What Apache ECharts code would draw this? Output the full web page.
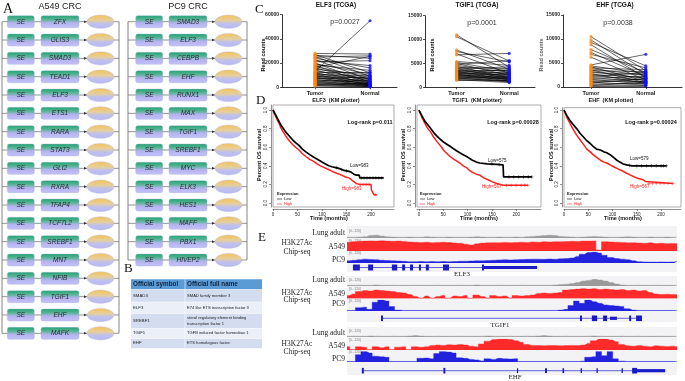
<!DOCTYPE html>
<html>
<head>
<meta charset="utf-8">
<script src="https://cdn.jsdelivr.net/npm/echarts@6/dist/echarts.min.js"></script>
<style>
html, body { margin: 0; padding: 0; background: #fff; }
#fig { width: 685px; height: 381px; }
</style>
</head>
<body>
<div id="fig"></div>
<script>
// ---------- panel A : CRC members
var a549Genes = ['ZFX','GLIS3','SMAD3','TEAD1','ELF3','ETS1','RARA','STAT3','GLI2','RXRA','TFAP4','TCF7L2','SREBF1','MNT','NFIB','TGIF1','EHF','MAFK'];
var pc9Genes = ['SMAD3','ELF3','CEBPB','EHF','RUNX1','MAX','TGIF1','SREBF1','MYC','ELK3','HES1','MAFF','PBX1','HIVEP2'];

// ---------- panel B : table
var tableSymbols = ['SMAD3','ELF3','SREBF1','TGIF1','EHF'];
var tableNames = ['SMAD family member 3','E74 like ETS transcription factor 3','sterol regulatory element binding\ntranscription factor 1','TGFB induced factor homeobox 1','ETS homologous factor'];

// ---------- panel C : paired read counts (tumor -> normal)
var pairCats = ['Tumor','Normal'];
var elf3Tumor  = [28000,27000,26500,25500,25000,24000,23000,22000,21000,20000,19500,18500,18000,17000,16500,16000,15000,14500,13000,13500,12500,12000,11500,11000,10500,10000,9500,9000,8500,8000,7500,7000,6500,6000,5500,5000,4500,4000,3500,3000,2500,2000,1500,1000];
var elf3Normal = [27500,12000,24000,9000,26000,16000,6000,18000,22000,4000,11000,14000,3000,8000,25500,5000,10000,2000,55000,7000,12500,3500,6500,1500,9500,4500,2500,7500,1000,5500,3000,8500,2000,4000,1200,6000,2200,800,3200,1500,500,2800,900,400];
var tgif1Tumor  = [11000,10600,7800,7500,7000,6800,5400,5200,5000,4800,4600,4400,4200,4000,3900,3800,3600,3500,3400,3300,3200,3100,3000,2900,2800,2700,2600,2500,2400,2300,2200,2100,2000,1900,1800,1700,1600,1500];
var tgif1Normal = [4200,5500,3800,5300,2900,7100,4600,3300,2500,5600,3100,2000,3900,2700,1800,4300,2300,3500,1500,2900,2100,3700,1700,2600,1300,3200,2000,1600,2800,1200,2400,1900,1100,2200,1400,1800,1000,1500];
var ehfTumor  = [10500,9800,9300,8800,7800,7200,6800,6200,4600,4400,4200,4000,3800,3600,3400,3200,3000,2800,2600,2400,2200,2000,1800,1600,1400,1200,1000,800,600,400,300,200];
var ehfNormal = [3400,2600,4400,1900,3000,2200,4000,1500,6800,2800,1200,3600,2400,900,3200,1800,2600,700,2000,1400,3000,1000,2200,600,1600,1200,400,1800,800,300,1000,200];

// ---------- panel D : KM curves [months, survival]
var kmMonthTicks = [0,50,100,150,200];
var survTicks = [0,0.2,0.4,0.6,0.8,1.0];
var elf3KmLow = [[0,1],[2,0.98],[5,0.95],[8,0.92],[12,0.88],[16,0.84],[20,0.81],[25,0.77],[30,0.74],[35,0.71],[40,0.68],[46,0.65],[53,0.62],[60,0.58],[67,0.55],[75,0.52],[81,0.5],[87,0.48],[94,0.46],[100,0.44],[107,0.42],[114,0.4],[120,0.39],[128,0.38],[136,0.37],[145,0.35],[155,0.34],[160,0.33],[165,0.31],[170,0.3],[176,0.3],[177,0.27],[226,0.27]];
var elf3KmHigh = [[0,1],[2,0.97],[5,0.94],[8,0.9],[12,0.86],[16,0.81],[20,0.77],[25,0.73],[30,0.69],[35,0.66],[40,0.63],[46,0.6],[53,0.57],[60,0.53],[67,0.5],[75,0.47],[82,0.45],[90,0.42],[97,0.4],[105,0.38],[113,0.36],[121,0.34],[130,0.32],[140,0.3],[148,0.28],[155,0.27],[160,0.25],[165,0.23],[170,0.21],[176,0.2],[200,0.2],[201,0.14],[205,0.14],[206,0.09],[212,0.09]];
var elf3LowCens = [[130,0.38],[140,0.36],[150,0.345],[180,0.27],[186,0.27],[192,0.27],[198,0.27],[204,0.27],[210,0.27],[216,0.27],[222,0.27]];
var elf3HighCens = [[178,0.2],[184,0.2],[190,0.2],[196,0.2],[209,0.09]];
var tgif1KmLow = [[0,1],[3,0.97],[7,0.93],[12,0.88],[17,0.85],[23,0.81],[30,0.76],[37,0.72],[45,0.68],[52,0.65],[58,0.63],[64,0.61],[72,0.58],[78,0.56],[84,0.54],[91,0.52],[98,0.5],[104,0.48],[110,0.46],[118,0.44],[125,0.43],[140,0.42],[160,0.415],[173,0.41],[174,0.28],[232,0.28]];
var tgif1KmHigh = [[0,1],[3,0.96],[7,0.91],[12,0.86],[17,0.81],[23,0.77],[30,0.71],[37,0.66],[45,0.61],[52,0.56],[58,0.53],[64,0.5],[72,0.47],[78,0.45],[84,0.43],[91,0.4],[98,0.38],[104,0.35],[110,0.33],[118,0.31],[125,0.3],[133,0.27],[142,0.25],[150,0.23],[160,0.21],[173,0.19],[224,0.19]];
var tgif1LowCens = [[150,0.42],[165,0.413],[185,0.28],[195,0.28],[205,0.28],[215,0.28],[225,0.28],[232,0.28]];
var tgif1HighCens = [[180,0.19],[190,0.19],[200,0.19],[210,0.19],[218,0.19],[224,0.19]];
var ehfKmLow = [[0,1],[3,0.97],[7,0.93],[12,0.89],[18,0.85],[26,0.8],[33,0.75],[40,0.71],[47,0.67],[54,0.64],[60,0.61],[67,0.58],[75,0.57],[82,0.55],[88,0.54],[95,0.52],[102,0.49],[109,0.46],[115,0.44],[122,0.42],[129,0.41],[140,0.4],[211,0.4]];
var ehfKmHigh = [[0,1],[3,0.96],[7,0.91],[12,0.86],[18,0.8],[26,0.73],[33,0.68],[40,0.63],[47,0.58],[54,0.55],[60,0.52],[67,0.49],[75,0.46],[82,0.44],[88,0.43],[95,0.41],[102,0.39],[110,0.37],[118,0.35],[129,0.32],[137,0.3],[145,0.28],[155,0.26],[163,0.25],[168,0.23],[170,0.21],[224,0.21]];
var ehfLowCens = [[135,0.405],[150,0.4],[160,0.4],[170,0.4],[180,0.4],[190,0.4],[200,0.4],[205,0.4],[211,0.4]];
var ehfHighCens = [[175,0.21],[182,0.21],[190,0.21],[198,0.21],[206,0.21],[214,0.21],[224,0.21]];

// ---------- panel E : H3K27Ac coverage (relative, 60 bins per locus)
var elf3Lung = [0.1,0.1,0.12,0.15,0.3,0.35,0.25,0.15,0.12,0.1, 0.1,0.12,0.1,0.1,0.15,0.12,0.1,0.1,0.12,0.1, 0.1,0.1,0.12,0.15,0.12,0.1,0.1,0.12,0.1,0.1, 0.12,0.1,0.15,0.2,0.25,0.3,0.35,0.3,0.2,0.15, 0.12,0.1,0.12,0.15,0.2,0.15,0.12,0.1,0.1,0.12, 0.15,0.12,0.1,0.1,0.12,0.1,0.1,0.12,0.1,0.1];
var elf3A549 = [0.8,0.85,0.88,0.9,0.92,0.9,0.93,0.9,0.88,0.9, 0.86,0.82,0.8,0.78,0.8,0.76,0.78,0.8,0.77,0.72, 0.7,0.62,0.55,0.65,0.72,0.74,0.76,0.75,0.78,0.76, 0.77,0.8,0.78,0.82,0.8,0.84,0.82,0.85,0.84,0.86, 0.88,0.87,0.9,0.9,0.92,0.1,0.85,0.82,0.8,0.78, 0.74,0.76,0.72,0.7,0.74,0.68,0.7,0.66,0.68,0.65];
var elf3PC9 = [0.2,0.25,0.3,0.35,0.32,0.3,0.25,0.22,0.2,0.18, 0.15,0.12,0.12,0.14,0.12,0.13,0.12,0.14,0.12,0.13, 0.15,0.16,0.18,0.2,0.2,0.22,0.25,0.28,0.3,0.28, 0.3,0.32,0.33,0.35,0.35,0.33,0.36,0.34,0.38,0.4, 0.45,0.6,0.8,0.95,1.0,0.9,0.7,0.5,0.4,0.35, 0.3,0.2,0.12,0.1,0.08,0.08,0.1,0.08,0.1,0.15];
var tgif1Lung = [0.1,0.1,0.12,0.1,0.1,0.15,0.1,0.1,0.12,0.1, 0.1,0.1,0.12,0.1,0.1,0.1,0.12,0.1,0.1,0.1, 0.12,0.1,0.1,0.15,0.1,0.1,0.1,0.12,0.1,0.1, 0.1,0.12,0.1,0.1,0.1,0.12,0.1,0.15,0.2,0.25, 0.35,0.5,0.7,0.8,0.95,0.85,0.7,0.5,0.3,0.15, 0.1,0.1,0.12,0.1,0.1,0.12,0.1,0.1,0.1,0.1];
var tgif1A549 = [0.3,0.45,0.7,0.8,0.75,0.85,0.8,0.75,0.7,0.6, 0.55,0.4,0.2,0.05,0.25,0.05,0.2,0.3,0.05,0.25, 0.2,0.3,0.05,0.35,0.2,0.05,0.3,0.2,0.25,0.05, 0.3,0.25,0.3,0.35,0.5,0.55,0.5,0.55,0.6,0.85, 0.9,0.95,1.0,0.95,1.0,0.9,0.95,0.9,0.85,0.9, 0.8,0.85,0.75,0.8,0.6,0.45,0.4,0.42,0.4,0.38];
var tgif1PC9 = [0.05,0.05,0.3,0.35,0.15,0.8,1.0,0.9,0.4,0.08, 0.05,0.05,0.05,0.05,0.05,0.05,0.05,0.05,0.05,0.05, 0.05,0.05,0.05,0.05,0.05,0.05,0.05,0.05,0.05,0.05, 0.05,0.05,0.05,0.05,0.05,0.05,0.05,0.05,0.08,0.15, 0.5,0.9,0.7,1.0,0.85,0.7,0.55,0.5,0.45,0.4, 0.2,0.08,0.05,0.05,0.05,0.05,0.05,0.05,0.05,0.05];
var ehfLung = [0.1,0.12,0.1,0.1,0.15,0.12,0.1,0.1,0.12,0.1, 0.1,0.15,0.2,0.15,0.1,0.1,0.12,0.1,0.1,0.1, 0.12,0.1,0.1,0.1,0.12,0.15,0.12,0.1,0.1,0.12, 0.1,0.1,0.12,0.1,0.15,0.2,0.15,0.1,0.1,0.12, 0.1,0.1,0.1,0.12,0.15,0.12,0.1,0.1,0.1,0.12, 0.1,0.1,0.12,0.1,0.1,0.1,0.12,0.1,0.1,0.1];
var ehfA549 = [0.3,0.05,0.3,0.25,0.05,0.3,0.2,0.3,0.05,0.25, 0.3,0.05,0.3,0.25,0.3,0.4,0.45,0.42,0.48,0.45, 0.5,0.45,0.35,0.3,0.55,0.8,0.95,1.0,1.0,0.95, 0.85,0.7,0.5,0.42,0.4,0.38,0.42,0.4,0.38,0.4, 0.42,0.4,0.45,0.6,0.85,1.0,1.0,0.9,0.75,0.5, 0.38,0.35,0.4,0.35,0.3,0.38,0.35,0.32,0.35,0.3];
var ehfPC9 = [0.05,0.05,0.7,1.0,0.85,0.55,0.5,0.45,0.05,0.05, 0.05,0.05,0.05,0.35,0.38,0.3,0.8,1.0,0.95,0.85, 0.4,0.35,0.25,0.2,0.1,0.3,0.25,0.35,0.3,0.28, 0.32,0.05,0.05,0.05,0.05,0.05,0.05,0.05,0.05,0.05, 0.05,0.05,0.08,0.45,0.5,1.0,0.6,1.0,0.3,0.08, 0.05,0.05,0.05,0.05,0.05,0.05,0.05,0.05,0.05,0.05];
// gene models on a 0-100 locus scale: [start, end, half height]
var elf3Exons = [[1.8,3.9,0.75],[6.4,7.9,0.75],[13.6,15.2,0.75],[16.7,17.6,0.75],[19.1,20.0,0.75],[21.8,22.4,0.75],[23.9,24.8,0.75],[29.1,30.9,0.75],[40.9,41.5,0.75],[41.5,57.6,0.4]];
var tgif1Exons = [[10.3,10.9,0.7],[70.6,71.2,0.7],[74.2,75.8,0.7],[77.6,78.8,0.7],[79.7,81.8,0.4],[85.5,86.1,0.7],[87.6,89.4,0.7]];
var ehfExons = [[4.5,5.1,0.7],[29.2,29.8,0.7],[51.5,51.8,0.6],[60.0,60.6,0.6],[65.3,65.8,0.6],[70.8,71.2,0.6],[75.6,76.0,0.6],[83.2,83.6,0.6],[86.4,87.9,0.7],[87.9,96.4,0.4]];
var elf3Span = [1.8, 57.6], tgif1Span = [10.3, 89.4], ehfSpan = [4.5, 96.4];

var chart = echarts.init(document.getElementById('fig'));
var grids = [], xAxes = [], yAxes = [], series = [], G = [];
var SANS = 'Liberation Sans', SERIF = 'Liberation Serif';

function addGrid(g, x, y) {
    grids.push(g);
    var i = grids.length - 1;
    xAxes.push(Object.assign({gridIndex: i}, x));
    yAxes.push(Object.assign({gridIndex: i}, y));
    return i;
}
function text(x, y, s, st, extra) {
    var style = Object.assign({text: s, fill: '#111', fontSize: 7, fontFamily: SANS, textAlign: 'left', textVerticalAlign: 'middle'}, st || {});
    style.align = style.textAlign; style.verticalAlign = style.textVerticalAlign;
    G.push(Object.assign({type: 'text', x: x, y: y, silent: true, style: style}, extra || {}));
}
function seg(x1, y1, x2, y2, color, w) {
    G.push({type: 'line', silent: true, shape: {x1: x1, y1: y1, x2: x2, y2: y2}, style: {stroke: color || '#777', lineWidth: w || 0.8}});
}
function box(x, y, w, h, fill, extra) {
    G.push(Object.assign({type: 'rect', silent: true, shape: {x: x, y: y, width: w, height: h}, style: {fill: fill}}, extra || {}));
}

// ---------- A  (gradients in page pixels: green/yellow on top, lavender below)
function boxGrad(y0, y1) {
    return new echarts.graphic.LinearGradient(0, y0, 0, y1, [
        {offset: 0, color: '#1fa571'}, {offset: 0.35, color: '#5fb59a'},
        {offset: 0.6, color: '#b4b3ee'}, {offset: 1, color: '#c4bffa'}], true);
}
function ellGrad(y0, y1) {
    return new echarts.graphic.LinearGradient(0, y0, 0, y1, [
        {offset: 0, color: '#f4c25a'}, {offset: 0.4, color: '#e6cf9a'},
        {offset: 0.65, color: '#bfc0ee'}, {offset: 1, color: '#b9b9f4'}], true);
}
var rowTop = 21.7, rowStep = 18.33;
function circuit(genes, xL, xR, seX, gX, eX) {
    var yEnd = rowTop + (genes.length - 1) * rowStep;
    seg(xL, rowTop, xL, yEnd, '#777', 0.9);
    seg(xR, rowTop, xR, yEnd, '#777', 0.9);
    genes.forEach(function (g, i) {
        var y = rowTop + i * rowStep;
        seg(xL, y, xR, y, '#777', 0.8);
        G.push({type: 'rect', silent: true, shape: {x: seX, y: y - 6, width: 27, height: 12, r: 2}, style: {fill: boxGrad(y - 6, y + 6), stroke: '#a9b3d6', lineWidth: 0.4}});
        text(seX + 13.5, y + 0.3, 'SE', {fontStyle: 'italic', textAlign: 'center', fontSize: 6.5, fill: '#2a2a3a'});
        G.push({type: 'rect', silent: true, shape: {x: gX, y: y - 6, width: 38, height: 12, r: 2}, style: {fill: boxGrad(y - 6, y + 6), stroke: '#a9b3d6', lineWidth: 0.4}});
        text(gX + 19, y + 0.3, g, {fontStyle: 'italic', textAlign: 'center', fontSize: 6.5, fill: '#2a2a3a'});
        G.push({type: 'polygon', silent: true, shape: {points: [[eX - 3, y - 1.3], [eX, y], [eX - 3, y + 1.3]]}, style: {fill: '#333'}});
        G.push({type: 'ellipse', silent: true, shape: {cx: eX + 13.5, cy: y, rx: 13.5, ry: 6.6}, style: {fill: ellGrad(y - 6.6, y + 6.6), stroke: '#b0b4d8', lineWidth: 0.4}});
    });
}
circuit(a549Genes, 2, 119, 7.3, 41, 87);
circuit(pc9Genes, 128, 247, 135.7, 169, 215);
text(3, 9, 'A', {fontFamily: SERIF, fontSize: 14, fill: '#111'});
text(60, 7, 'A549 CRC', {fontSize: 9, textAlign: 'center', fill: '#222'});
text(188, 7, 'PC9 CRC', {fontSize: 9, textAlign: 'center', fill: '#222'});

// ---------- B
text(124, 269, 'B', {fontFamily: SERIF, fontSize: 13, fill: '#111'});
var tx0 = 131, tx1 = 185, tx2 = 262;
var rowEdges = [279.3, 289.3, 301.7, 313.3, 328.3, 338.3, 348.3];
box(tx0, rowEdges[0], tx2 - tx0, rowEdges[1] - rowEdges[0], '#5b9bd5');
text(tx0 + 2, (rowEdges[0] + rowEdges[1]) / 2, 'Official symbol', {fontSize: 6.3, fontWeight: 'bold', fill: '#12233d'});
text(tx1 + 2, (rowEdges[0] + rowEdges[1]) / 2, 'Official full name', {fontSize: 6.3, fontWeight: 'bold', fill: '#12233d'});
tableSymbols.forEach(function (s, i) {
    var y0 = rowEdges[i + 1], y1 = rowEdges[i + 2];
    box(tx0, y0 + 0.5, tx2 - tx0, y1 - y0 - 0.5, i % 2 === 0 ? '#d3ddef' : '#eaeff8');
    text(tx0 + 2, (y0 + y1) / 2, s, {fontSize: 4.3, fill: '#222'});
    text(tx1 + 2, (y0 + y1) / 2, tableNames[i], {fontSize: 4.1, fill: '#222', lineHeight: 5.5});
});
seg(tx1, rowEdges[0], tx1, rowEdges[6], '#ffffff', 0.6);

// ---------- C
function pairedPlot(g, ymax, step, tumor, normal, xr) {
    var gi = addGrid(g,
        {type: 'value', min: xr[0], max: xr[1], splitLine: {show: false},
         axisLine: {onZero: false, lineStyle: {color: '#000', width: 0.8}},
         axisTick: {customValues: [0, 1], length: 2, lineStyle: {color: '#000', width: 0.7}},
         axisLabel: {customValues: [0, 1], formatter: function (v) { return pairCats[Math.round(v)]; }, fontSize: 5.5, fontWeight: 'bold', fontFamily: SANS, margin: 3, color: '#222'}},
        {type: 'value', min: 0, max: ymax, interval: step, splitLine: {show: false},
         axisLine: {show: true, onZero: false, lineStyle: {color: '#000', width: 0.8}},
         axisTick: {show: true, length: 2, lineStyle: {color: '#000', width: 0.7}},
         axisLabel: {formatter: function (v) { return String(v); }, fontSize: 5, fontWeight: 'bold', fontFamily: SANS, margin: 3, color: '#222'}});
    series.push({type: 'lines', coordinateSystem: 'cartesian2d', xAxisIndex: gi, yAxisIndex: gi, silent: true, z: 2,
        data: tumor.map(function (t, i) { return {coords: [[0, t], [1, normal[i]]]}; }),
        lineStyle: {color: '#000', width: 0.6, opacity: 1}});
    series.push({type: 'scatter', xAxisIndex: gi, yAxisIndex: gi, silent: true, z: 3, symbolSize: 3.2,
        data: tumor.map(function (t) { return [0, t]; }), itemStyle: {color: '#ff8a12'}});
    series.push({type: 'scatter', xAxisIndex: gi, yAxisIndex: gi, silent: true, z: 3, symbolSize: 3.2,
        data: normal.map(function (n) { return [1, n]; }), itemStyle: {color: '#1010ff'}});
}
pairedPlot({left: 282, top: 14.7, width: 115, height: 72.6}, 60000, 20000, elf3Tumor, elf3Normal, [-0.6, 1.49]);
pairedPlot({left: 425, top: 15.7, width: 110, height: 71.6}, 15000, 5000, tgif1Tumor, tgif1Normal, [-0.6, 1.49]);
pairedPlot({left: 563, top: 15, width: 119, height: 72}, 15000, 5000, ehfTumor, ehfNormal, [-0.51, 1.66]);
text(255, 10, 'C', {fontFamily: SERIF, fontSize: 13});
text(336, 5, 'ELF3 (TCGA)', {fontSize: 6.5, fontWeight: 'bold', textAlign: 'center'});
text(477, 5, 'TGIF1 (TCGA)', {fontSize: 6.5, fontWeight: 'bold', textAlign: 'center'});
text(615, 5, 'EHF (TCGA)', {fontSize: 6.5, fontWeight: 'bold', textAlign: 'center'});
text(345, 22.5, 'p=0.0027', {fontSize: 7, textAlign: 'center', fill: '#333'});
text(482, 23, 'p=0.0001', {fontSize: 7, textAlign: 'center', fill: '#333'});
text(618, 22.7, 'p=0.0038', {fontSize: 7, textAlign: 'center', fill: '#333'});
text(263, 55, 'Read counts', {fontSize: 5.5, fontWeight: 'bold', textAlign: 'center'}, {rotation: Math.PI / 2});
text(432, 55, 'Read counts', {fontSize: 5.5, fontWeight: 'bold', textAlign: 'center'}, {rotation: Math.PI / 2});
text(541, 55, 'Read counts', {fontSize: 5.5, fontWeight: 'bold', textAlign: 'center', fill: '#666'}, {rotation: Math.PI / 2});

// ---------- D
function kmPlot(g, xr, yr, low, high, lowCens, highCens) {
    g.show = true; g.borderColor = '#8a8a8a'; g.borderWidth = 0.7; g.backgroundColor = 'transparent';
    var gi = addGrid(g,
        {type: 'value', min: xr[0], max: xr[1], offset: 2, splitLine: {show: false},
         axisLine: {onZero: false, lineStyle: {color: '#444', width: 0.6}},
         axisTick: {customValues: kmMonthTicks, length: 2, lineStyle: {color: '#444', width: 0.6}},
         axisLabel: {customValues: kmMonthTicks, fontSize: 4.5, fontFamily: SANS, margin: 3, color: '#222'}},
        {type: 'value', min: yr[0], max: yr[1], offset: 2, splitLine: {show: false},
         axisLine: {show: true, onZero: false, lineStyle: {color: '#444', width: 0.6}},
         axisTick: {show: true, customValues: survTicks, length: 2, lineStyle: {color: '#444', width: 0.6}},
         axisLabel: {customValues: survTicks, rotate: 90, formatter: function (v) { return v.toFixed(1); }, fontSize: 4.5, fontFamily: SANS, margin: 3, color: '#222'}});
    var cens = 'path://M0,5L10,5M5,0L5,10';
    series.push({type: 'line', xAxisIndex: gi, yAxisIndex: gi, silent: true, data: high, symbol: 'none', z: 3, lineStyle: {color: '#ff1f1f', width: 1.5}});
    series.push({type: 'line', xAxisIndex: gi, yAxisIndex: gi, silent: true, data: low, symbol: 'none', z: 4, lineStyle: {color: '#000', width: 1.7}});
    series.push({type: 'scatter', xAxisIndex: gi, yAxisIndex: gi, silent: true, data: highCens, symbol: cens, symbolSize: 3.5, z: 3, itemStyle: {color: 'transparent', borderColor: '#ff1f1f', borderWidth: 0.6}});
    series.push({type: 'scatter', xAxisIndex: gi, yAxisIndex: gi, silent: true, data: lowCens, symbol: cens, symbolSize: 3.5, z: 4, itemStyle: {color: 'transparent', borderColor: '#000', borderWidth: 0.6}});
}
kmPlot({left: 273, top: 105, width: 121, height: 102}, [0, 247], [-0.043, 1.054], elf3KmLow, elf3KmHigh, elf3LowCens, elf3HighCens);
kmPlot({left: 417, top: 105, width: 124, height: 102}, [-4, 251], [-0.043, 1.054], tgif1KmLow, tgif1KmHigh, tgif1LowCens, tgif1HighCens);
kmPlot({left: 564, top: 107.7, width: 117, height: 99.3}, [0, 241], [-0.043, 1.025], ehfKmLow, ehfKmHigh, ehfLowCens, ehfHighCens);
text(256, 101, 'D', {fontFamily: SERIF, fontSize: 13});
[[336, 'ELF3  (KM plotter)'], [477, 'TGIF1  (KM plotter)'], [611, 'EHF  (KM plotter)']].forEach(function (t) {
    text(t[0], 100, t[1], {fontSize: 5.5, fontWeight: 'bold', textAlign: 'center'});
});
[[370, 'Log-rank p=0.011'], [513, 'Log-rank p=0.00028'], [651, 'Log-rank p=0.00024']].forEach(function (t) {
    text(t[0], 122.5, t[1], {fontSize: 5.5, fontWeight: 'bold', textAlign: 'center'});
});
[[329, 259], [479, 403], [623, 551]].forEach(function (p) {
    text(p[0], 218.5, 'Time (months)', {fontSize: 5.5, fontWeight: 'bold', textAlign: 'center'});
    text(p[1], 155, 'Percent OS survival', {fontSize: 5.5, fontWeight: 'bold', textAlign: 'center'}, {rotation: Math.PI / 2});
});
[[350, 166, 'Low=983', 342, 188.5, 'High=983'], [488, 161, 'Low=575', 482, 187, 'High=567'], [630, 159, 'Low=579', 630, 187, 'High=567']].forEach(function (t) {
    text(t[0], t[1], t[2], {fontSize: 4.5, fill: '#111'});
    text(t[3], t[4], t[5], {fontSize: 4.5, fill: '#ff1f1f'});
});
[277, 420, 567].forEach(function (x) {
    text(x, 194, 'Expression', {fontSize: 4, fontWeight: 'bold'});
    seg(x, 199, x + 5, 199, '#000', 0.6);
    text(x + 7, 199, 'Low', {fontSize: 4});
    seg(x, 204, x + 5, 204, '#ff1f1f', 0.6);
    text(x + 7, 204, 'High', {fontSize: 4, fill: '#ff1f1f'});
});

// ---------- E
var trackLeft = 347, trackWidth = 330;
function track(top, h, values, color) {
    var gi = addGrid({left: trackLeft, top: top, width: trackWidth, height: h},
        {type: 'category', data: values.map(function (v, i) { return i; }), boundaryGap: false, show: false},
        {type: 'value', min: 0, max: 1, show: false});
    series.push({type: 'line', xAxisIndex: gi, yAxisIndex: gi, silent: true, data: values, step: 'middle', symbol: 'none',
        lineStyle: {width: 0.4, color: color}, areaStyle: {color: color, opacity: 1}});
    text(trackLeft + 2, top + 1, '[0 - 120]', {fontSize: 3.2, fill: '#777'});
}
function gene(yc, exons, span, name, nameX) {
    var gi = addGrid({left: trackLeft, top: yc - 4, width: trackWidth, height: 8},
        {type: 'value', min: 0, max: 100, show: false},
        {type: 'value', min: -1, max: 1, show: false});
    series.push({type: 'line', xAxisIndex: gi, yAxisIndex: gi, silent: true, data: [[span[0], 0], [span[1], 0]], symbol: 'none', lineStyle: {color: '#2222cc', width: 0.7}});
    series.push({type: 'custom', xAxisIndex: gi, yAxisIndex: gi, silent: true, data: exons,
        renderItem: function (params, api) {
            var a = api.coord([api.value(0), api.value(2)]);
            var b = api.coord([api.value(1), -api.value(2)]);
            return {type: 'rect', shape: {x: a[0], y: a[1], width: Math.max(b[0] - a[0], 1.2), height: b[1] - a[1]}, style: {fill: '#1818c8'}};
        }});
    text(nameX, yc + 6.5, name, {fontFamily: SERIF, fontSize: 7, fill: '#222', textAlign: 'center'});
}
function locus(bg, rows, labelYs, hy) {
    box(trackLeft, bg[0], trackWidth, bg[1] - bg[0], '#f3f3f5');
    track(rows[0][0], rows[0][1], rows[0][2], '#9a9a9a');
    track(rows[1][0], rows[1][1], rows[1][2], '#ff2a2a');
    track(rows[2][0], rows[2][1], rows[2][2], '#2222dd');
    text(345, labelYs[0], 'Lung adult', {fontFamily: SERIF, fontSize: 7.5, textAlign: 'right', fill: '#222'});
    text(345, labelYs[1], 'A549', {fontFamily: SERIF, fontSize: 7.5, textAlign: 'right', fill: '#222'});
    text(345, labelYs[2], 'PC9', {fontFamily: SERIF, fontSize: 7.5, textAlign: 'right', fill: '#222'});
    text(297, hy[0], 'H3K27Ac', {fontFamily: SERIF, fontSize: 7.5, textAlign: 'center', fill: '#222'});
    text(297, hy[1], 'Chip-seq', {fontFamily: SERIF, fontSize: 7.5, textAlign: 'center', fill: '#222'});
}
locus([226, 272], [[230, 8, elf3Lung], [240, 11, elf3A549], [252, 11, elf3PC9]], [233, 247, 260], [243.3, 251.7]);
gene(267.5, elf3Exons, elf3Span, 'ELF3', 462);
locus([276, 322], [[279, 7, tgif1Lung], [288.5, 10, tgif1A549], [300, 11, tgif1PC9]], [280, 294, 304.5], [293.3, 300]);
gene(318.3, tgif1Exons, tgif1Span, 'TGIF1', 500);
locus([327, 375], [[330, 7, ehfLung], [339, 11, ehfA549], [351.5, 10.5, ehfPC9]], [332.7, 346, 359.5], [344, 352.5]);
gene(370.7, ehfExons, ehfSpan, 'EHF', 515);
text(258, 238, 'E', {fontFamily: SERIF, fontSize: 13});

chart.setOption({
    animation: false,
    grid: grids,
    xAxis: xAxes,
    yAxis: yAxes,
    series: series,
    graphic: {elements: G}
});
</script>
</body>
</html>
